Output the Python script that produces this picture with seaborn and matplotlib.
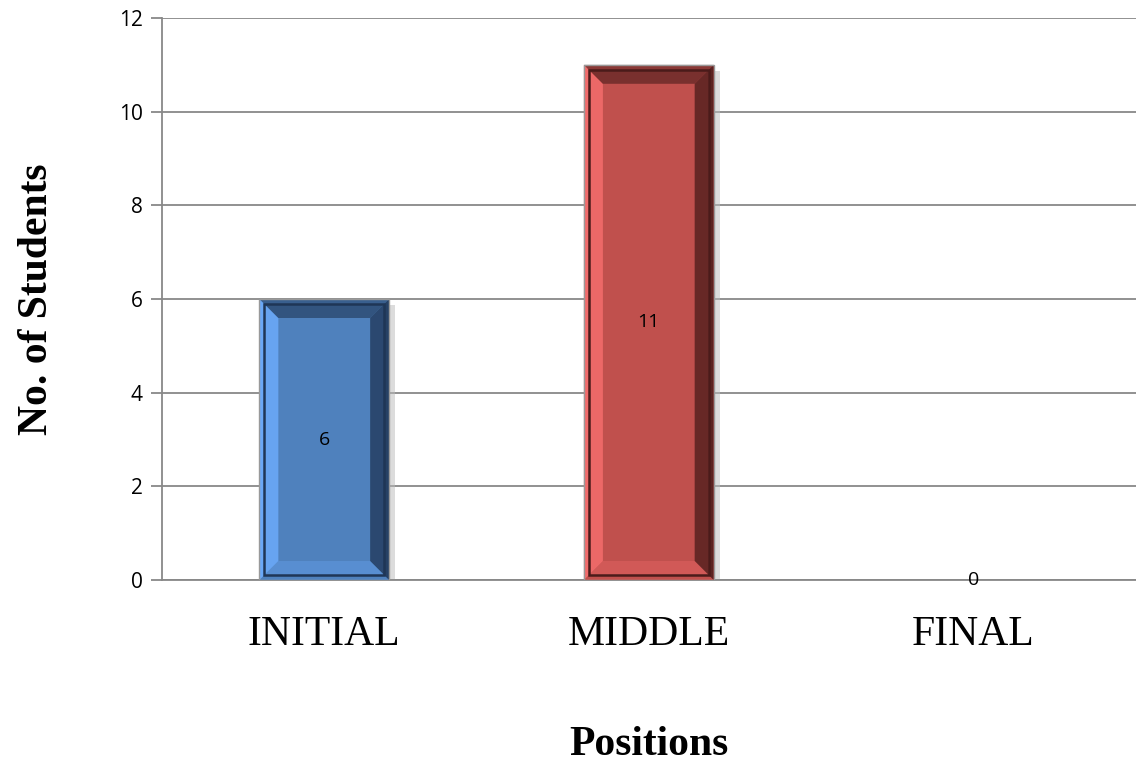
import numpy as np
import pandas as pd
import matplotlib
matplotlib.use("Agg")
import matplotlib.pyplot as plt
import seaborn as sns
from matplotlib.patches import Polygon, Rectangle

# data
positions = ["INITIAL", "MIDDLE", "FINAL"]
students = [6, 11, 0]
bar_colors = ["#4F81BD", "#C0504D", "#9BBB59"]
light_colors = ["#6AA8F7", "#F26B6B", "#B8E07A"]
dark_colors = ["#1F3656", "#4A1B1A", "#4C5E2A"]

sns.set_style("white")
plt.rcParams["font.family"] = ["Open Sans", "DejaVu Sans"]

df = pd.DataFrame({"Positions": positions, "Students": students})

fig = plt.figure(figsize=(11.36, 7.71), dpi=100)
ax = fig.add_axes([0.1426, 0.2477, 0.857, 0.729])

sns.barplot(data=df, x="Positions", y="Students", hue="Positions",
            palette=bar_colors, saturation=1, width=0.4, legend=False, ax=ax,
            edgecolor="none", zorder=3)

ax.set_ylim(0, 12)
ax.set_xlim(-0.5, 2.5)

bars = sorted(ax.patches, key=lambda p: p.get_x())

# pixel -> data conversion factors for the bevel widths
px_x = 3 / (0.857 * 1136)
px_y = 12 / (0.729 * 771)

# bevel look on each bar, built from the bar geometry
for bar, lc, dc, val in zip(bars, light_colors, dark_colors, students):
    x0, w, h = bar.get_x(), bar.get_width(), bar.get_height()
    ax.text(x0 + w / 2, h / 2, str(val), ha="center", va="center",
            fontsize=14, color="black", zorder=6)
    if h <= 0:
        continue
    x1, y0, y1 = x0 + w, 0, h
    # drop shadow
    ax.add_patch(Rectangle((x1, y0), 6 * px_x, h - 6 * px_y, color="#bbbbbb",
                           alpha=0.5, zorder=2, lw=0))
    # outer thin frame
    o = 5
    ox, oy = o * px_x, o * px_y
    ax.add_patch(Polygon([(x0, y0), (x0, y1), (x0 + ox, y1 - oy), (x0 + ox, y0 + oy)],
                         closed=True, color=lc, zorder=4, lw=0))
    ax.add_patch(Polygon([(x0, y1), (x1, y1), (x1 - ox, y1 - oy), (x0 + ox, y1 - oy)],
                         closed=True, color=dc, alpha=0.45, zorder=4, lw=0))
    ax.add_patch(Polygon([(x1, y1), (x1, y0), (x1 - ox, y0 + oy), (x1 - ox, y1 - oy)],
                         closed=True, color=dc, alpha=0.85, zorder=4, lw=0))
    # inner bevel
    bx0, bx1 = x0 + ox, x1 - ox
    by0, by1 = y0 + oy, y1 - oy
    b = 14
    bx, by = b * px_x, b * px_y
    ix0, ix1 = bx0 + bx, bx1 - bx
    iy0, iy1 = by0 + by, by1 - by
    ax.add_patch(Polygon([(bx0, by0), (bx0, by1), (ix0, iy1), (ix0, iy0)],
                         closed=True, color=lc, alpha=0.9, zorder=4, lw=0))
    ax.add_patch(Polygon([(bx0, by1), (bx1, by1), (ix1, iy1), (ix0, iy1)],
                         closed=True, color=dc, alpha=0.6, zorder=4, lw=0))
    ax.add_patch(Polygon([(bx1, by1), (bx1, by0), (ix1, iy0), (ix1, iy1)],
                         closed=True, color=dc, alpha=0.75, zorder=4, lw=0))
    ax.add_patch(Polygon([(bx0, by0), (bx1, by0), (ix1, iy0), (ix0, iy0)],
                         closed=True, color=lc, alpha=0.35, zorder=4, lw=0))
    ax.add_patch(Rectangle((bx0, by0), bx1 - bx0, by1 - by0, fill=False,
                           ec=dc, lw=1.8, zorder=5))
    ax.add_patch(Rectangle((x0, y0), w, h, fill=False, ec="#999999",
                           lw=1.0, zorder=5))

ax.set_yticks(np.arange(0, 13, 2))
ax.yaxis.grid(True, color="#888888", linewidth=1.3, zorder=0)
ax.set_axisbelow(True)

for s in ["top", "right"]:
    ax.spines[s].set_visible(False)
for s in ["left", "bottom"]:
    ax.spines[s].set_color("#888888")
    ax.spines[s].set_linewidth(1.3)

ax.tick_params(axis="y", which="major", left=True, length=8, width=1.3,
               color="#888888", labelsize=15, pad=6, labelcolor="black")
ax.tick_params(axis="x", bottom=False, pad=22, labelcolor="black")
for t in ax.get_xticklabels():
    t.set_fontfamily("Liberation Serif")
    t.set_fontsize(30)

ax.set_xlabel("Positions", fontfamily="Liberation Serif", fontsize=30,
              fontweight="bold", labelpad=52, color="black")
ax.set_ylabel("No. of Students", fontfamily="Liberation Serif", fontsize=30,
              fontweight="bold", labelpad=45, color="black")

fig.savefig("out.png", dpi=100)
